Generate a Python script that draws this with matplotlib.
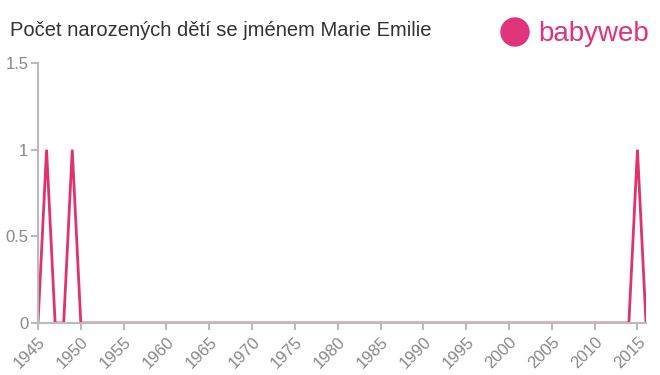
import matplotlib
matplotlib.use("Agg")
import matplotlib.pyplot as plt
from matplotlib.patches import Ellipse

plt.rcParams["font.family"] = ["Liberation Sans", "DejaVu Sans"]

# data
years = list(range(1945, 2017))
counts = [0] * len(years)
for y in (1946, 1949, 2015):
    counts[years.index(y)] = 1

xticks = list(range(1945, 2016, 5))
yticks = [0, 0.5, 1, 1.5]
ytick_labels = ["0", "0.5", "1", "1.5"]

line_color = "#e0336c"
grey = "#bbbbbb"

fig = plt.figure(figsize=(6.6, 3.75), dpi=100)
ax = fig.add_axes([38 / 660, 1 - 323 / 375, (646 - 38) / 660, (323 - 63) / 375])

ax.plot(years, counts, color=line_color, lw=2, solid_joinstyle="miter")
ax.set_xlim(1945, 2016)
ax.set_ylim(0, 1.5)
ax.set_xticks(xticks)
ax.set_xticklabels([str(x) for x in xticks], rotation=45, ha="right",
                   rotation_mode="anchor")
ax.set_yticks(yticks)
ax.set_yticklabels(ytick_labels)
ax.tick_params(colors=grey, labelcolor="#888888", labelsize=12,
               length=5, width=1.5)
ax.tick_params(axis="x", pad=3)
ax.tick_params(axis="y", pad=2)
for side in ("top", "right"):
    ax.spines[side].set_visible(False)
for side in ("left", "bottom"):
    ax.spines[side].set_color(grey)
    ax.spines[side].set_linewidth(1.5)

fig.text(10 / 660, 1 - 31 / 375, "Počet narozených dětí se jménem Marie Emilie",
         fontsize=14.5, color="#333333", va="center", ha="left")

# logo
logo = "#e0337a"
fig.patches.append(Ellipse((515 / 660, 1 - 32 / 375), 28 / 660, 28 / 375,
                           transform=fig.transFigure, color=logo))
fig.text(538 / 660, 1 - 34 / 375, "babyweb", fontsize=20, color=logo,
         va="center", ha="left")

fig.savefig("out.png", dpi=100)
